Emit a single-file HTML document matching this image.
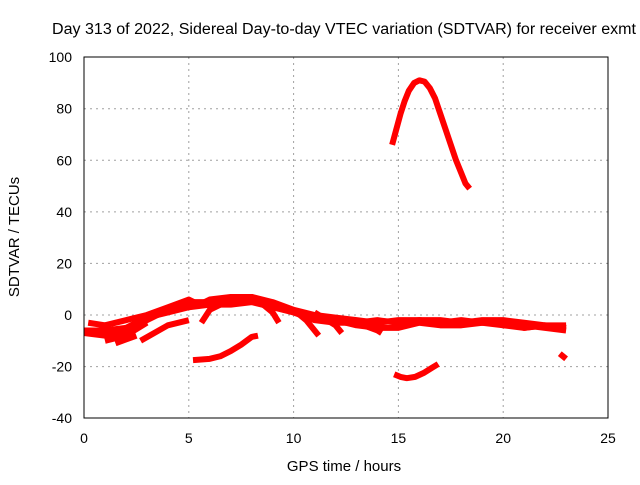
<!DOCTYPE html>
<html><head><meta charset="utf-8"><style>
body{margin:0;background:#fff;font-family:"Liberation Sans",sans-serif}
svg text{font-family:"Liberation Sans",sans-serif;font-size:14px;fill:#000}
</style></head><body>
<svg width="640" height="480">
<g id="grid"></g>
<g id="series"></g>
<rect x="84" y="57" width="524" height="361" fill="none" stroke="#000"/>
<g id="ticks"></g>
<text x="344" y="34" text-anchor="middle" textLength="584" lengthAdjust="spacingAndGlyphs" style="font-size:15.5px">Day 313 of 2022, Sidereal Day-to-day VTEC variation (SDTVAR) for receiver exmt</text>
<text x="344" y="471" text-anchor="middle" style="font-size:15px">GPS time / hours</text>
<text transform="translate(19,237) rotate(-90)" text-anchor="middle" style="font-size:15px">SDTVAR / TECUs</text>
</svg>
<script>
const xTicks=[0,5,10,15,20,25];
const yTicks=[-40,-20,0,20,40,60,80,100];
const arcHigh=[[14.7,66],[14.9,72],[15.1,78],[15.3,83],[15.5,87],[15.75,90],[16,91],[16.25,90.5],[16.5,88],[16.75,84],[17,78],[17.25,72],[17.5,66],[17.75,60],[18,55],[18.2,51],[18.4,49]];
const arcLow1=[[5.2,-17.5],[6,-17],[6.5,-16],[7,-14],[7.5,-11.5],[8,-8.5],[8.3,-8]];
const arcLow2=[[14.8,-23],[15.1,-24],[15.4,-24.5],[15.8,-24],[16.2,-22.5],[16.6,-20.5],[16.9,-19]];
const tail=[[22.7,-15],[23,-17]];
const band1=[[0,-7],[1,-8],[2,-7],[3,-2],[4,2],[5,5],[6,5],[7,6],[8,7],[9,5],[10,2],[11,0],[12,-1],[13,-2],[14,-3],[15,-2],[16,-2],[17,-2],[18,-3],[19,-2],[20,-2],[21,-3],[22,-4],[23,-5]];
const band2=[[0.2,-3],[1,-4],[2,-2],[3,0],[4,3],[5,6],[5.5,4],[6,6],[7,7],[8,7],[9,4],[10,1],[11,-1],[12,-2],[13,-4],[14,-5],[15,-5],[16,-3],[17,-4],[18,-4],[19,-3],[20,-4],[21,-4],[22,-5],[23,-6]];
const band3=[[0,-6],[1,-6],[2,-5],[3,-1],[4,1],[5,3],[6,4],[7,4],[8,5],[9,3],[10,1],[11,-2],[12,-3],[13,-3],[14,-2],[15,-3],[16,-2],[17,-3],[18,-2],[19,-3],[20,-3],[21,-5],[22,-4],[23,-4]];
const branches=[
 [[1,-10],[2,-8],[3,-3]],
 [[1.5,-11],[2.5,-8]],
 [[2.7,-10],[4,-4],[5,-2]],
 [[5.6,-3],[6,2],[6.5,4]],
 [[7.5,6],[8.4,5],[9,1],[9.3,-3]],
 [[10,2],[10.6,-2],[11.2,-8]],
 [[11,1],[12,-4],[12.3,-7]],
 [[13,-3],[14,-6],[14.2,-7]],
 [[20,-4],[21,-5],[22,-4]]
];
const X=v=>84+v*524/25, Y=v=>315-v*361/140;
const ns="http://www.w3.org/2000/svg";
const grid=document.getElementById('grid'),ticks=document.getElementById('ticks'),ser=document.getElementById('series');
function mk(t,a,p){const e=document.createElementNS(ns,t);for(const k in a)e.setAttribute(k,a[k]);p.appendChild(e);return e;}
xTicks.forEach(v=>{const x=X(v);
 if(v>0&&v<25){const g=mk('line',{x1:x,x2:x,y1:57,y2:418,stroke:'#a0a0a0','stroke-dasharray':'2,4'},grid);
 
 }
 const t=mk('text',{x:x,y:443,'text-anchor':'middle'},ticks);t.textContent=v;
 
 
});
yTicks.forEach(v=>{const y=Y(v);
 if(v>-40&&v<100){const g=mk('line',{x1:84,x2:608,y1:y,y2:y,stroke:'#a0a0a0','stroke-dasharray':'2,4'},grid);
 
 }
 const t=mk('text',{x:72,y:y+5,'text-anchor':'end'},ticks);t.textContent=v;
 
 
});
function draw(d,name){const p=mk('polyline',{points:d.map(q=>X(q[0])+','+Y(q[1])).join(' '),fill:'none',stroke:'#ff0000','stroke-width':6,'stroke-linejoin':'round'},ser);
 
 }
draw(arcHigh,'series-high-arc');draw(arcLow1,'series-low-arc-1');draw(arcLow2,'series-low-arc-2');draw(tail,'series-tail');
draw(band1,'series-band-1');draw(band2,'series-band-2');draw(band3,'series-band-3');
branches.forEach(b=>draw(b,'series-branch'));
</script>
</body></html>
